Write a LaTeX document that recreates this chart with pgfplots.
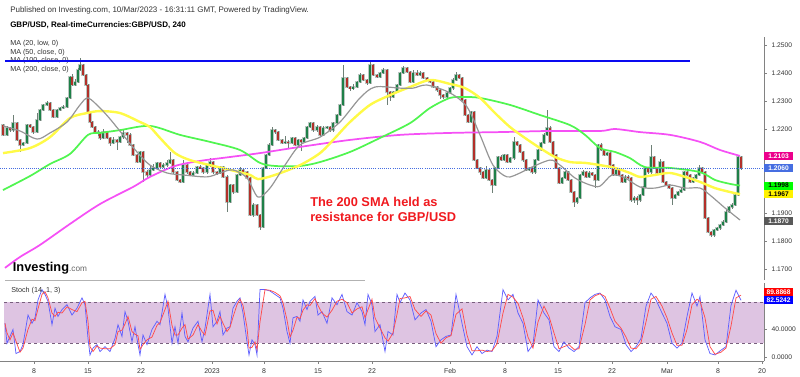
\documentclass[border=0pt]{standalone}
\usepackage{pgfplots}
\pgfplotsset{compat=1.18}
\usepackage{pgfplotstable}
\usepackage{fontspec}
\setmainfont{Liberation Sans}

\definecolor{upc}{RGB}{30,128,72}
\definecolor{dnc}{RGB}{178,48,42}
\definecolor{wick}{RGB}{110,128,118}
\definecolor{halo}{RGB}{188,200,194}
\definecolor{maGray}{RGB}{150,150,150}
\definecolor{maYel}{RGB}{255,250,70}
\definecolor{maGrn}{RGB}{80,245,80}
\definecolor{maMag}{RGB}{245,80,245}
\definecolor{lineBlue}{RGB}{10,10,240}
\definecolor{dotBlue}{RGB}{70,110,225}
\definecolor{stochFill}{RGB}{222,196,226}
\definecolor{stochDash}{RGB}{120,95,125}
\definecolor{kBlue}{RGB}{95,95,255}
\definecolor{dRed}{RGB}{255,75,75}
\definecolor{axGray}{RGB}{130,130,130}
\definecolor{txt}{RGB}{50,50,50}
\definecolor{annRed}{RGB}{240,25,30}

\pgfplotstableread{
x o h l c
3 1.2214 1.2219 1.2174 1.2179
7 1.2179 1.2209 1.2174 1.2204
10 1.2204 1.2209 1.2191 1.2196
13 1.2196 1.2250 1.2191 1.2221
17 1.2221 1.2226 1.2156 1.2161
20 1.2161 1.2166 1.2118 1.2143
23 1.2143 1.2155 1.2138 1.2150
27 1.2150 1.2219 1.2145 1.2214
30 1.2214 1.2219 1.2202 1.2207
33 1.2207 1.2212 1.2184 1.2189
37 1.2189 1.2257 1.2184 1.2232
40 1.2232 1.2273 1.2227 1.2268
43 1.2268 1.2291 1.2263 1.2286
47 1.2286 1.2300 1.2281 1.2293
50 1.2293 1.2298 1.2263 1.2268
53 1.2268 1.2273 1.2238 1.2243
57 1.2243 1.2273 1.2238 1.2268
60 1.2268 1.2280 1.2263 1.2275
63 1.2275 1.2286 1.2270 1.2279
67 1.2279 1.2316 1.2274 1.2311
70 1.2311 1.2391 1.2306 1.2386
72 1.2386 1.2395 1.2352 1.2357
75 1.2357 1.2380 1.2352 1.2368
78 1.2368 1.2418 1.2363 1.2411
80 1.2411 1.2454 1.2406 1.2429
83 1.2429 1.2434 1.2388 1.2393
86 1.2393 1.2398 1.2352 1.2357
88 1.2357 1.2362 1.2252 1.2257
90 1.2257 1.2262 1.2220 1.2225
92 1.2225 1.2230 1.2202 1.2207
95 1.2207 1.2212 1.2184 1.2189
98 1.2189 1.2196 1.2176 1.2186
100 1.2186 1.2191 1.2160 1.2168
103 1.2168 1.2200 1.2163 1.2189
107 1.2189 1.2194 1.2163 1.2168
110 1.2168 1.2173 1.2140 1.2150
113 1.2150 1.2170 1.2145 1.2161
117 1.2161 1.2166 1.2125 1.2154
120 1.2154 1.2176 1.2149 1.2171
123 1.2171 1.2196 1.2166 1.2186
127 1.2186 1.2191 1.2150 1.2179
130 1.2179 1.2184 1.2138 1.2143
133 1.2143 1.2148 1.2102 1.2107
137 1.2107 1.2112 1.2077 1.2082
140 1.2082 1.2123 1.2077 1.2118
143 1.2118 1.2123 1.2011 1.2046
147 1.2046 1.2054 1.2025 1.2036
150 1.2036 1.2068 1.2031 1.2054
153 1.2054 1.2075 1.2049 1.2061
157 1.2061 1.2084 1.2056 1.2079
160 1.2079 1.2084 1.2059 1.2064
163 1.2064 1.2079 1.2059 1.2071
167 1.2071 1.2089 1.2066 1.2079
170 1.2079 1.2118 1.2074 1.2089
173 1.2089 1.2094 1.2041 1.2046
177 1.2046 1.2051 1.2013 1.2018
180 1.2018 1.2023 1.2006 1.2011
183 1.2011 1.2089 1.2006 1.2071
187 1.2071 1.2076 1.2041 1.2046
190 1.2046 1.2051 1.2031 1.2036
193 1.2036 1.2050 1.2031 1.2043
197 1.2043 1.2069 1.2038 1.2064
200 1.2064 1.2072 1.2056 1.2061
203 1.2061 1.2066 1.2041 1.2046
207 1.2046 1.2076 1.2041 1.2071
210 1.2071 1.2096 1.2066 1.2082
213 1.2082 1.2087 1.2041 1.2046
217 1.2046 1.2051 1.2036 1.2043
220 1.2043 1.2069 1.2038 1.2064
223 1.2064 1.2069 1.2024 1.2029
227 1.2029 1.2034 1.1904 1.1939
230 1.1939 1.2005 1.1934 1.2000
233 1.2000 1.2005 1.1968 1.1975
237 1.1975 1.2041 1.1970 1.2036
240 1.2036 1.2064 1.2031 1.2054
243 1.2054 1.2059 1.2041 1.2046
247 1.2046 1.2051 1.2020 1.2025
250 1.2025 1.2030 1.1888 1.1893
253 1.1893 1.1934 1.1886 1.1929
257 1.1929 1.1934 1.1888 1.1893
260 1.1893 1.1898 1.1839 1.1850
263 1.1850 1.2066 1.1845 1.2061
266 1.2061 1.2112 1.2056 1.2107
269 1.2107 1.2150 1.2102 1.2143
272 1.2143 1.2207 1.2138 1.2196
275 1.2196 1.2201 1.2184 1.2189
278 1.2189 1.2194 1.2156 1.2161
282 1.2161 1.2166 1.2145 1.2150
285 1.2150 1.2175 1.2145 1.2154
288 1.2154 1.2159 1.2130 1.2150
292 1.2150 1.2173 1.2145 1.2168
295 1.2168 1.2173 1.2138 1.2143
298 1.2143 1.2166 1.2138 1.2161
301 1.2161 1.2166 1.2120 1.2154
304 1.2154 1.2173 1.2149 1.2168
307 1.2168 1.2212 1.2163 1.2207
310 1.2207 1.2226 1.2202 1.2221
313 1.2221 1.2226 1.2191 1.2196
317 1.2196 1.2216 1.2191 1.2207
320 1.2207 1.2212 1.2174 1.2179
323 1.2179 1.2209 1.2174 1.2204
327 1.2204 1.2212 1.2199 1.2207
330 1.2207 1.2212 1.2191 1.2196
333 1.2196 1.2226 1.2191 1.2221
337 1.2221 1.2255 1.2216 1.2250
340 1.2250 1.2291 1.2245 1.2286
343 1.2286 1.2429 1.2281 1.2382
347 1.2382 1.2387 1.2345 1.2350
350 1.2350 1.2355 1.2336 1.2346
353 1.2346 1.2360 1.2341 1.2350
357 1.2350 1.2373 1.2345 1.2368
360 1.2368 1.2400 1.2363 1.2393
363 1.2393 1.2398 1.2370 1.2375
367 1.2375 1.2380 1.2359 1.2364
370 1.2364 1.2439 1.2359 1.2429
373 1.2429 1.2434 1.2388 1.2393
377 1.2393 1.2398 1.2381 1.2386
380 1.2386 1.2405 1.2381 1.2400
383 1.2400 1.2418 1.2395 1.2411
387 1.2411 1.2416 1.2286 1.2332
390 1.2332 1.2337 1.2300 1.2314
393 1.2314 1.2337 1.2309 1.2332
397 1.2332 1.2362 1.2327 1.2357
400 1.2357 1.2405 1.2352 1.2400
403 1.2400 1.2425 1.2395 1.2418
407 1.2418 1.2423 1.2399 1.2404
410 1.2404 1.2409 1.2363 1.2368
413 1.2368 1.2410 1.2363 1.2400
417 1.2400 1.2411 1.2388 1.2393
420 1.2393 1.2407 1.2388 1.2400
423 1.2400 1.2405 1.2377 1.2382
427 1.2382 1.2387 1.2370 1.2375
430 1.2375 1.2380 1.2363 1.2368
433 1.2368 1.2373 1.2345 1.2350
437 1.2350 1.2355 1.2334 1.2339
440 1.2339 1.2344 1.2306 1.2321
443 1.2321 1.2326 1.2309 1.2314
447 1.2314 1.2334 1.2309 1.2329
450 1.2329 1.2351 1.2324 1.2346
453 1.2346 1.2382 1.2341 1.2375
456 1.2375 1.2404 1.2370 1.2393
459 1.2393 1.2398 1.2377 1.2382
462 1.2382 1.2387 1.2299 1.2304
465 1.2304 1.2309 1.2245 1.2250
468 1.2250 1.2255 1.2220 1.2225
471 1.2225 1.2266 1.2220 1.2261
474 1.2261 1.2266 1.2084 1.2089
477 1.2089 1.2094 1.2056 1.2061
480 1.2061 1.2066 1.2036 1.2046
483 1.2046 1.2051 1.2020 1.2025
486 1.2025 1.2068 1.2020 1.2054
489 1.2054 1.2059 1.2013 1.2018
492 1.2018 1.2023 1.1971 1.2000
495 1.2000 1.2066 1.1995 1.2061
498 1.2061 1.2105 1.2056 1.2100
501 1.2100 1.2107 1.2084 1.2089
504 1.2089 1.2112 1.2084 1.2107
507 1.2107 1.2112 1.2077 1.2082
510 1.2082 1.2101 1.2077 1.2096
514 1.2096 1.2171 1.2091 1.2154
517 1.2154 1.2159 1.2138 1.2143
520 1.2143 1.2148 1.2113 1.2118
523 1.2118 1.2123 1.2084 1.2089
526 1.2089 1.2094 1.2049 1.2054
529 1.2054 1.2066 1.2049 1.2061
532 1.2061 1.2066 1.2041 1.2046
535 1.2046 1.2094 1.2041 1.2089
538 1.2089 1.2130 1.2084 1.2125
541 1.2125 1.2155 1.2120 1.2150
544 1.2150 1.2184 1.2145 1.2179
547 1.2179 1.2268 1.2174 1.2204
550 1.2204 1.2209 1.2149 1.2154
553 1.2154 1.2159 1.2102 1.2107
556 1.2107 1.2112 1.2056 1.2061
559 1.2061 1.2066 1.2002 1.2007
562 1.2007 1.2030 1.2002 1.2025
565 1.2025 1.2051 1.2020 1.2046
568 1.2046 1.2051 1.2013 1.2018
571 1.2018 1.2023 1.1970 1.1975
574 1.1975 1.1980 1.1921 1.1939
577 1.1939 1.1959 1.1934 1.1954
580 1.1954 1.2041 1.1949 1.2036
583 1.2036 1.2054 1.2031 1.2046
586 1.2046 1.2051 1.2024 1.2029
589 1.2029 1.2050 1.2024 1.2043
592 1.2043 1.2048 1.2031 1.2036
595 1.2036 1.2041 1.1990 1.2018
598 1.2018 1.2148 1.2013 1.2143
601 1.2143 1.2150 1.2120 1.2125
604 1.2125 1.2130 1.2102 1.2107
607 1.2107 1.2119 1.2102 1.2114
610 1.2114 1.2119 1.2066 1.2071
613 1.2071 1.2076 1.2031 1.2036
616 1.2036 1.2059 1.2031 1.2054
619 1.2054 1.2059 1.2031 1.2036
622 1.2036 1.2041 1.2006 1.2011
625 1.2011 1.2034 1.2006 1.2029
628 1.2029 1.2034 1.2020 1.2025
631 1.2025 1.2030 1.1941 1.1946
634 1.1946 1.1959 1.1936 1.1954
637 1.1954 1.1959 1.1929 1.1946
640 1.1946 1.1969 1.1941 1.1964
643 1.1964 1.1998 1.1959 1.1993
645 1.1993 1.2066 1.1988 1.2061
648 1.2061 1.2066 1.2041 1.2046
651 1.2046 1.2143 1.2041 1.2100
654 1.2100 1.2105 1.2056 1.2061
657 1.2061 1.2066 1.2038 1.2043
660 1.2043 1.2093 1.2038 1.2082
663 1.2082 1.2087 1.2006 1.2011
666 1.2011 1.2016 1.1995 1.2000
669 1.2000 1.2005 1.1984 1.1989
672 1.1989 1.1994 1.1929 1.1954
675 1.1954 1.1969 1.1949 1.1964
678 1.1964 1.1980 1.1959 1.1975
681 1.1975 1.1989 1.1970 1.1982
684 1.1982 1.2051 1.1977 1.2046
687 1.2046 1.2051 1.2031 1.2036
690 1.2036 1.2041 1.2006 1.2011
693 1.2011 1.2030 1.2006 1.2025
696 1.2025 1.2041 1.2020 1.2036
699 1.2036 1.2071 1.2031 1.2061
702 1.2061 1.2066 1.2041 1.2046
705 1.2046 1.2051 1.1877 1.1882
708 1.1882 1.1887 1.1827 1.1832
711 1.1832 1.1837 1.1814 1.1821
714 1.1821 1.1844 1.1816 1.1839
717 1.1839 1.1851 1.1834 1.1846
720 1.1846 1.1862 1.1841 1.1857
723 1.1857 1.1875 1.1852 1.1868
726 1.1868 1.1909 1.1863 1.1904
729 1.1904 1.1926 1.1899 1.1921
732 1.1921 1.1936 1.1916 1.1929
735 1.1929 1.1969 1.1924 1.1964
738 1.1964 1.2107 1.1959 1.2100
741 1.2100 1.2105 1.2055 1.2060
}\candles

\newcommand{\pbox}[4]{\node[anchor=west, fill=#2, text=#3, inner sep=0.9pt, minimum height=6pt, minimum width=21.5pt, font=\fontsize{5}{6}\selectfont\bfseries] at (axis cs:764,#1) {#4};}

\pgfplotsset{candle/.style={only marks, mark=*, mark size=0pt, mark options={opacity=0},
  error bars/y dir=both, error bars/y explicit, error bars/error mark=none}}

\begin{document}
\begin{tikzpicture}
\path[use as bounding box] (0,0) rectangle (600pt,282pt);

% header texts
\node[anchor=west, inner sep=0, text=txt, font=\fontsize{6}{7}\selectfont] at (7.5pt,274.5pt) {Published on Investing.com, 10/Mar/2023 - 16:31:11 GMT, Powered by TradingView.};
\node[anchor=west, inner sep=0, text=black, font=\fontsize{6}{7}\selectfont\bfseries] at (7.5pt,263.25pt) {GBP/USD, Real-timeCurrencies:GBP/USD, 240};
\node[anchor=west, inner sep=0, text=txt, font=\fontsize{5.4}{6}\selectfont] at (7.5pt,249pt) {MA (20, low, 0)};
\node[anchor=west, inner sep=0, text=txt, font=\fontsize{5.4}{6}\selectfont] at (7.5pt,242.6pt) {MA (50, close, 0)};
\node[anchor=west, inner sep=0, text=txt, font=\fontsize{5.4}{6}\selectfont] at (7.5pt,236.2pt) {MA (100, close, 0)};
\node[anchor=west, inner sep=0, text=txt, font=\fontsize{5.4}{6}\selectfont] at (7.5pt,229.8pt) {MA (200, close, 0)};

\begin{axis}[
  at={(0pt,72pt)}, anchor=south west,
  width=573pt, height=182.25pt, scale only axis,
  xmin=0, xmax=764, ymin=1.166071, ymax=1.252857,
  axis x line=none, axis y line*=right,
  axis line style={axGray, line width=0.6pt},
  ytick={1.17,1.18,1.19,1.22,1.23,1.24,1.25},
  extra y ticks={1.20,1.21}, extra y tick labels={},
  tick style={axGray, line width=0.5pt}, major tick length=2.2pt, tick align=outside,
  scaled y ticks=false,
  /pgf/number format/assume math mode=true,
  yticklabel style={font=\fontsize{5}{6}\selectfont, text=txt, /pgf/number format/fixed, /pgf/number format/fixed zerofill, /pgf/number format/precision=4},
  clip=false,
]
% halos behind bodies
\addplot[candle, error bars/error bar style={line width=2.5pt, color=halo}]
  table[x=x, y expr={(\thisrow{o}+\thisrow{c})/2}, y error expr={abs(\thisrow{c}-\thisrow{o})/2+0.0003}] {\candles};
% wicks
\addplot[candle, error bars/error bar style={line width=0.6pt, color=wick}]
  table[x=x, y expr={(\thisrow{h}+\thisrow{l})/2}, y error expr={(\thisrow{h}-\thisrow{l})/2}] {\candles};
% up bodies
\addplot[candle, restrict y to domain=1:2, error bars/error bar style={line width=1.5pt, color=upc}]
  table[x=x, y expr={ifthenelse(\thisrow{c}>=\thisrow{o},(\thisrow{o}+\thisrow{c})/2,5)}, y error expr={abs(\thisrow{c}-\thisrow{o})/2+0.00006}] {\candles};
% down bodies
\addplot[candle, restrict y to domain=1:2, error bars/error bar style={line width=1.5pt, color=dnc}]
  table[x=x, y expr={ifthenelse(\thisrow{c}<\thisrow{o},(\thisrow{o}+\thisrow{c})/2,5)}, y error expr={abs(\thisrow{c}-\thisrow{o})/2+0.00006}] {\candles};

% MA 200
\addplot[maMag, line width=1.3pt, smooth] coordinates {(5,1.1704)(20,1.1743)(40,1.1786)(70,1.1861)(100,1.1932)(133,1.1993)(150,1.2029)(175,1.2068)(200,1.2086)(230,1.2100)(260,1.2114)(300,1.2136)(350,1.2161)(400,1.2179)(450,1.2186)(500,1.2189)(550,1.2193)(600,1.2193)(615,1.2200)(640,1.2189)(670,1.2179)(700,1.2154)(720,1.2125)(740,1.2104)};
% MA 100
\addplot[maGrn, line width=1.3pt, smooth] coordinates {(3,1.1982)(30,1.2032)(50,1.2075)(70,1.2111)(88,1.2179)(100,1.2186)(120,1.2196)(150,1.2211)(180,1.2179)(210,1.2154)(240,1.2125)(260,1.2079)(275,1.2068)(300,1.2068)(320,1.2082)(350,1.2118)(380,1.2168)(410,1.2221)(430,1.2275)(450,1.2311)(465,1.2314)(480,1.2311)(510,1.2286)(540,1.2250)(570,1.2214)(585,1.2179)(600,1.2132)(615,1.2118)(630,1.2096)(645,1.2064)(670,1.2061)(700,1.2046)(715,1.2018)(730,1.2004)(740,1.1998)};
% MA 50
\addplot[maYel, line width=1.8pt, smooth] coordinates {(3,1.2114)(30,1.2132)(50,1.2171)(70,1.2239)(87,1.2257)(100,1.2264)(120,1.2257)(140,1.2225)(150,1.2207)(160,1.2168)(175,1.2114)(190,1.2089)(210,1.2071)(230,1.2054)(250,1.2036)(258,1.2021)(275,1.2036)(300,1.2071)(320,1.2114)(335,1.2168)(350,1.2225)(370,1.2286)(390,1.2321)(410,1.2350)(430,1.2375)(450,1.2361)(465,1.2346)(480,1.2311)(495,1.2257)(510,1.2207)(525,1.2168)(540,1.2132)(555,1.2100)(570,1.2082)(585,1.2079)(600,1.2071)(615,1.2061)(630,1.2043)(640,1.2029)(655,1.2036)(670,1.2043)(685,1.2029)(700,1.2011)(715,1.1989)(730,1.1975)(740,1.1967)};
% MA 20 low
\addplot[maGray, line width=0.9pt, smooth] coordinates {(3,1.2211)(20,1.2193)(37,1.2164)(50,1.2186)(67,1.2225)(80,1.2286)(88,1.2311)(100,1.2275)(110,1.2236)(123,1.2179)(137,1.2118)(150,1.2071)(167,1.2043)(183,1.2036)(207,1.2029)(220,1.2043)(233,1.2054)(247,1.2025)(258,1.1957)(270,1.1989)(285,1.2071)(300,1.2143)(320,1.2171)(340,1.2225)(360,1.2311)(375,1.2350)(400,1.2346)(413,1.2346)(427,1.2357)(450,1.2329)(467,1.2279)(480,1.2179)(493,1.2071)(507,1.2029)(520,1.2043)(530,1.2061)(550,1.2089)(560,1.2071)(575,1.2025)(590,1.2000)(600,1.1996)(612,1.2036)(625,1.2025)(640,1.1993)(655,1.1989)(670,1.2000)(685,1.1989)(700,1.1989)(710,1.1964)(725,1.1918)(740,1.1875)};

% horizontal lines
\addplot[lineBlue, line width=1.4pt] coordinates {(5,1.2443)(690,1.2443)};
\addplot[dotBlue, line width=0.6pt, densely dotted] coordinates {(0,1.2060)(764,1.2060)};

% price boxes
\pbox{1.2103}{magenta}{white}{1.2103}
\pbox{1.2060}{dotBlue}{white}{1.2060}
\pbox{1.1998}{green}{black}{1.1998}
\pbox{1.1967}{yellow}{black}{1.1967}
\pbox{1.1870}{black!65}{white}{1.1870}
\end{axis}

% logo and separator
\node[anchor=west, inner sep=0] at (9.5pt,81pt) {{\fontsize{9.6}{10}\selectfont\bfseries Investing}{\fontsize{6.2}{7}\selectfont\color{black!60}.com}};
\draw[black!30, line width=0.75pt] (3.75pt,72pt) -- (273.75pt,72pt);

% annotation
\node[anchor=west, align=left, inner sep=0, text=annRed, font=\fontsize{9.6}{11.25}\selectfont\bfseries] at (232.5pt,124.9pt) {The 200 SMA held as\\resistance for GBP/USD};

% stochastic panel
\begin{axis}[
  at={(0pt,11.25pt)}, anchor=south west,
  width=573pt, height=58.5pt, scale only axis,
  xmin=0, xmax=764, ymin=-5.82, ymax=107.6,
  axis x line*=bottom, axis y line*=right,
  axis line style={axGray, line width=0.6pt},
  xtick={34,88,141,212,264,318,372,450,505,558,612,667,718,762},
  xticklabels={8,15,22,2023,8,15,22,Feb,8,15,22,Mar,8,20},
  ytick={0,40}, yticklabels={0.0000,40.0000},
  tick style={axGray, line width=0.5pt}, major tick length=2.2pt, tick align=outside,
  xticklabel style={font=\fontsize{5.2}{6}\selectfont, text=txt},
  yticklabel style={font=\fontsize{5}{6}\selectfont, text=txt},
  clip=false,
]
\addplot[draw=none, fill=stochFill] coordinates {(4,20)(764,20)(764,80)(4,80)} -- cycle;
\addplot[stochDash, line width=0.6pt, dash pattern=on 2.5pt off 2pt] coordinates {(4,20)(764,20)};
\addplot[stochDash, line width=0.6pt, dash pattern=on 2.5pt off 2pt] coordinates {(4,80)(764,80)};
\addplot[kBlue, line width=0.55pt] coordinates {(5,49)(7,20)(10,30)(13,40)(16,5)(20,8)(23,18)(28,61)(32,49)(35,57)(38,83)(42,98)(45,91)(48,81)(52,47)(55,71)(58,59)(62,69)(67,76)(72,61)(77,71)(82,86)(85,76)(88,27)(90,3)(93,13)(97,18)(100,8)(105,15)(110,8)(115,27)(118,47)(122,30)(125,66)(128,52)(132,22)(135,44)(138,18)(140,3)(143,32)(147,18)(152,40)(157,52)(160,47)(165,91)(168,71)(172,20)(175,44)(178,20)(182,64)(185,30)(188,22)(193,42)(198,52)(202,22)(205,42)(210,91)(213,44)(217,52)(220,66)(223,32)(227,42)(230,44)(233,71)(237,81)(240,86)(243,64)(247,22)(249,3)(252,25)(255,18)(257,3)(260,98)(265,98)(270,96)(275,91)(280,86)(283,71)(287,37)(290,20)(293,57)(297,59)(300,52)(303,83)(307,69)(310,81)(315,88)(318,61)(322,66)(327,49)(332,86)(337,76)(342,91)(347,66)(352,61)(357,79)(362,66)(365,47)(368,91)(372,76)(375,37)(380,47)(385,8)(388,37)(393,32)(397,91)(400,79)(405,93)(410,83)(415,54)(421,64)(426,69)(431,52)(436,15)(441,25)(446,30)(451,32)(456,91)(462,49)(467,15)(472,3)(477,15)(482,5)(487,10)(492,8)(497,30)(503,98)(508,83)(513,91)(518,64)(523,49)(528,8)(533,18)(538,83)(544,64)(549,54)(554,15)(559,8)(564,22)(569,13)(574,8)(579,15)(585,79)(590,86)(595,91)(600,93)(605,83)(610,59)(615,44)(621,40)(626,18)(631,8)(636,15)(641,27)(646,74)(651,93)(656,83)(662,64)(667,49)(672,20)(677,13)(682,20)(687,59)(692,93)(697,74)(700,88)(705,25)(710,5)(715,3)(721,10)(726,15)(731,75)(736,97)(741,82.5)};
\addplot[dRed, line width=0.55pt] coordinates {(5,49)(7,35)(10,25)(13,35)(16,23)(20,7)(23,13)(28,40)(32,55)(35,53)(38,70)(42,91)(45,95)(48,86)(52,64)(55,59)(58,65)(62,64)(67,73)(72,69)(77,66)(82,79)(85,81)(88,52)(90,15)(93,8)(97,16)(100,13)(105,12)(110,12)(115,18)(118,37)(122,39)(125,48)(128,59)(132,37)(135,33)(138,31)(140,11)(143,18)(147,25)(152,29)(157,46)(160,50)(165,69)(168,81)(172,46)(175,32)(178,32)(182,42)(185,47)(188,26)(193,32)(198,47)(202,37)(205,32)(210,67)(213,68)(217,48)(220,59)(223,49)(227,37)(230,43)(233,58)(237,76)(240,84)(243,75)(247,43)(249,13)(252,14)(255,22)(257,11)(260,51)(265,98)(270,97)(275,94)(280,89)(283,79)(287,54)(290,29)(293,39)(297,58)(300,56)(303,68)(307,76)(310,75)(315,85)(318,75)(322,64)(327,58)(332,68)(337,81)(342,84)(347,79)(352,64)(357,70)(362,73)(365,57)(368,69)(372,84)(375,57)(380,42)(385,28)(388,23)(393,35)(397,62)(400,85)(405,86)(410,88)(415,69)(421,59)(426,67)(431,61)(436,34)(441,20)(446,28)(451,31)(456,62)(462,70)(467,32)(472,9)(477,9)(482,10)(487,8)(492,9)(497,19)(503,64)(508,91)(513,87)(518,78)(523,57)(528,29)(533,13)(538,51)(544,74)(549,59)(554,35)(559,12)(564,15)(569,18)(574,11)(579,12)(585,47)(590,83)(595,89)(600,92)(605,88)(610,71)(615,52)(621,42)(626,29)(631,13)(636,12)(641,21)(646,51)(651,84)(656,88)(662,74)(667,57)(672,35)(677,17)(682,17)(687,40)(692,76)(697,84)(700,81)(705,57)(710,15)(715,4)(721,7)(726,13)(731,45)(736,86)(741,89.9)};
\pbox{94.5}{red}{white}{89.8868}
\pbox{82.5}{blue}{white}{82.5242}
\end{axis}

\node[anchor=west, inner sep=0, text=txt, font=\fontsize{5.4}{6}\selectfont] at (8.25pt,63.75pt) {Stoch (14, 1, 3)};
\end{tikzpicture}
\end{document}
